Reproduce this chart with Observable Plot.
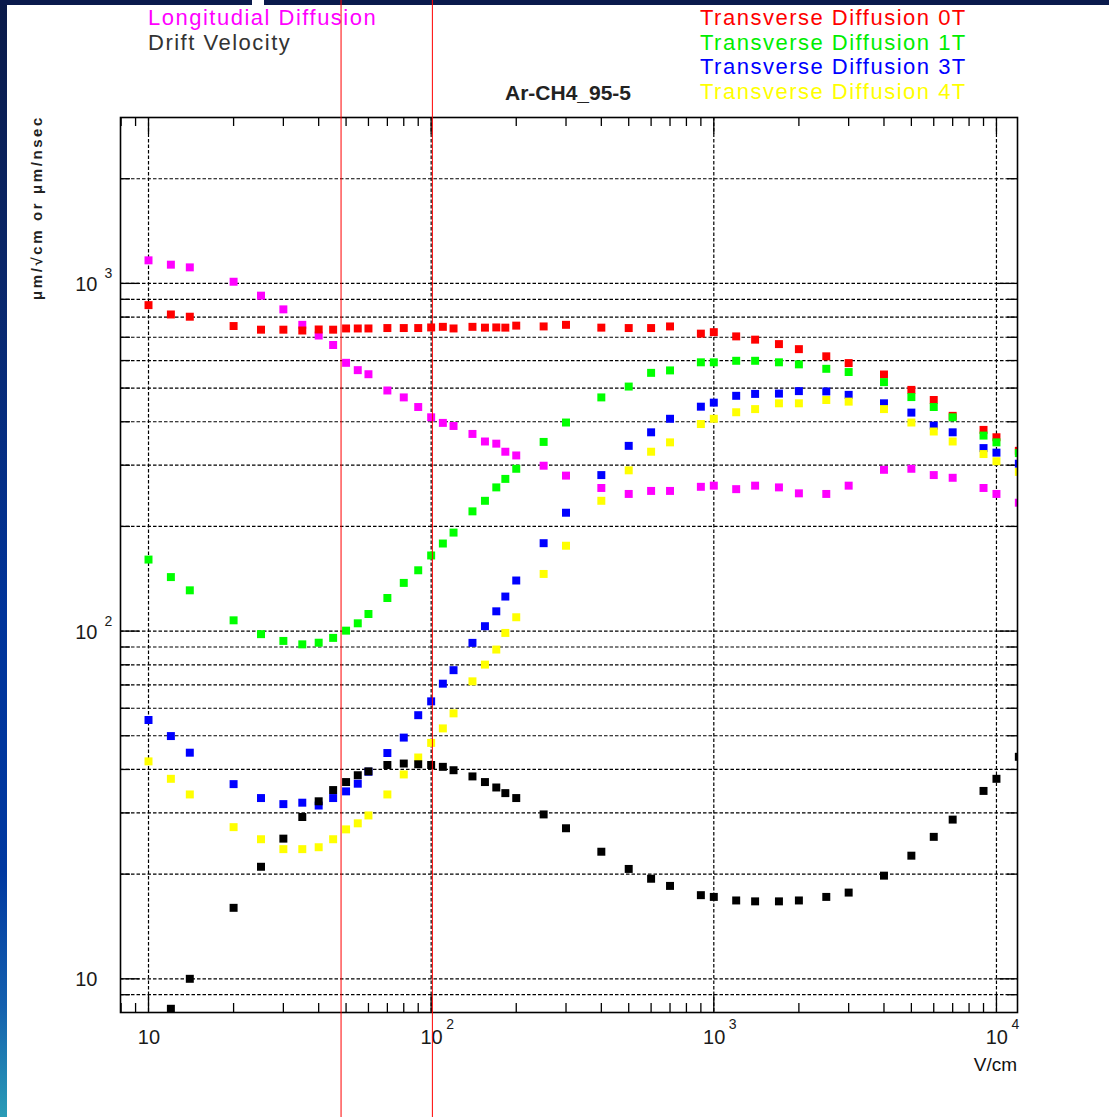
<!DOCTYPE html>
<html>
<head>
<meta charset="utf-8">
<script src="https://cdn.jsdelivr.net/npm/d3@7"></script>
<script src="https://cdn.jsdelivr.net/npm/@observablehq/plot@0.6"></script>
<style>
html, body { margin: 0; padding: 0; background: #fff; }
#page { position: relative; width: 1109px; height: 1117px; overflow: hidden; background: #fff;
  font-family: "Liberation Sans", Arial, Helvetica, sans-serif; }
.band-left { position: absolute; left: 0; top: 0; width: 7px; height: 1117px;
  background: linear-gradient(to bottom, #0a1a48 0%, #0a276a 25%, #00349a 55%, #0038a0 78%, #1460ae 90%, #2a9cb6 100%); }
.band-top { position: absolute; top: 0; height: 5px; background: #0a1a4c; }
.txt { position: absolute; white-space: nowrap; line-height: 1; }
.leg { font-size: 22px; letter-spacing: 1.5px; }
#chart { position: absolute; left: 0; top: 0; }
</style>
</head>
<body>
<div id="page">
  <div class="band-left"></div>
  <div class="band-top" style="left:0;width:252px"></div>
  <div class="band-top" style="left:264px;width:845px"></div>
  <div class="txt leg" style="left:148px;top:7.4px;color:#ff00ff">Longitudial Diffusion</div>
  <div class="txt leg" style="left:148px;top:32px;color:#333">Drift Velocity</div>
  <div class="txt leg" style="left:700px;top:7.4px;color:#ff0000">Transverse Diffusion 0T</div>
  <div class="txt leg" style="left:700px;top:32px;color:#00ee00">Transverse Diffusion 1T</div>
  <div class="txt leg" style="left:700px;top:56.4px;color:#0000ff">Transverse Diffusion 3T</div>
  <div class="txt leg" style="left:700px;top:81px;color:#ffff00">Transverse Diffusion 4T</div>
  <div class="txt" style="left:418px;width:300px;text-align:center;top:82px;font-size:21px;font-weight:bold;color:#222">Ar-CH4_95-5</div>
  <div class="txt" style="left:36px;top:115px;transform-origin:0 0;transform:rotate(-90deg) translate(-100%,-50%);font-size:15px;font-weight:bold;letter-spacing:2.6px;color:#222">μm/√cm or μm/nsec</div>
  <div class="txt" style="left:817px;width:200px;text-align:right;top:1055px;font-size:19px;color:#111">V/cm</div>
  <div id="chart"></div>
</div>
<script>
// Electric field values (V/cm)
const field = [10, 12, 14, 20, 25, 30, 35, 40, 45, 50, 55, 60, 70, 80, 90, 100, 110, 120, 140, 155, 170, 183, 200,
  250, 300, 400, 500, 600, 700, 900, 1000, 1200, 1400, 1700, 2000, 2500, 3000, 4000, 5000, 6000, 7000, 9000, 10000, 12000];

// Longitudinal diffusion (um/sqrt(cm))
const longDiff = [1165, 1132, 1112, 1011, 922, 842, 760, 708, 665, 591, 563, 548, 492, 470, 441, 412, 397, 389, 369, 351, 346, 328, 320,
  299, 280, 258, 248, 253, 253, 260, 262, 256, 262, 259, 249, 248, 262, 291, 293, 281, 276, 258, 248, 234];

// Transverse diffusion at 0T, 1T, 3T, 4T (um/sqrt(cm))
const trans0T = [866, 814, 802, 754, 736, 736, 732, 737, 736, 742, 742, 742, 744, 744, 744, 747, 750, 742, 750, 746, 747, 746, 756,
  752, 760, 746, 744, 744, 752, 717, 724, 704, 689, 669, 647, 617, 590, 547, 494, 462, 416, 379, 361, 330];
const trans1T = [160.6, 143, 131, 107.4, 98, 93.7, 91.6, 92.6, 95.6, 100.3, 105.3, 112, 124.5, 137.6, 149.6, 165, 178.6, 192, 221, 237, 259, 274, 293,
  350, 398, 470, 505, 553, 562, 593, 593, 599, 599, 593, 585, 568, 556, 520, 471, 441, 412, 365, 349, 325];
const trans3T = [55.5, 49.9, 44.7, 36.3, 33.1, 31.8, 32.1, 31.5, 33.1, 34.6, 36.4, 39.4, 44.6, 49.4, 57.3, 62.8, 70.6, 77.2, 92.5, 103.3, 114, 125.7, 139.8,
  179, 219, 281, 341, 373, 408, 442, 454, 475, 481, 482, 490, 489, 478, 452, 425, 390, 373, 336, 326, 303];
const trans4T = [42.2, 37.6, 33.9, 27.3, 25.2, 23.6, 23.6, 23.9, 25.2, 26.9, 28.0, 29.5, 33.9, 38.7, 43.3, 47.7, 52.5, 58, 71.7, 80.1, 88.5, 98.8, 109.6,
  146, 176, 237, 290, 328, 349, 394, 408, 426, 435, 452, 452, 462, 457, 435, 398, 375, 351, 323, 308, 287];

// Drift velocity (um/nsec)
const driftVel = [null, 8.2, 10.0, 16.0, 21.0, 25.3, 29.2, 32.4, 34.9, 36.8, 38.5, 39.5, 41.2, 41.6, 41.4, 41.2, 40.7, 39.8, 38.2, 36.8, 35.5, 34.2, 33.1,
  29.7, 27.1, 23.2, 20.7, 19.4, 18.5, 17.4, 17.2, 16.8, 16.7, 16.7, 16.8, 17.2, 17.7, 19.8, 22.6, 25.6, 28.7, 34.7, 37.6, 43.5];

const seriesNames = ["Longitudial Diffusion", "Transverse Diffusion 0T", "Transverse Diffusion 1T", "Transverse Diffusion 3T", "Transverse Diffusion 4T", "Drift Velocity"];
const seriesColors = ["#ff00ff", "#ff0000", "#00ff00", "#0000ff", "#ffff00", "#000000"];
const seriesValues = [longDiff, trans0T, trans1T, trans3T, trans4T, driftVel];

// Axis setup
const xDomain = [7.96, 11870];
const yDomain = [8, 3000];
const xDecades = [10, 100, 1000, 10000];
const xExponents = ["", "2", "3", "4"];
const yDecades = [10, 100, 1000];
const yExponents = ["", "2", "3"];
const tickBase = "10";

// Vertical marker lines (V/cm)
const markerLines = [48, 101];

const rows = [];
seriesValues.forEach((vals, s) => {
  vals.forEach((v, i) => {
    if (v != null) rows.push({ field: field[i], value: v, series: seriesNames[s], color: seriesColors[s] });
  });
});

const xTicksAll = d3.scaleLog().domain(xDomain).ticks().filter(t => t > xDomain[0] && t < xDomain[1]);
const yTicksAll = d3.scaleLog().domain(yDomain).ticks().filter(t => t > yDomain[0] && t < yDomain[1]);
const isDecade = t => Math.abs(Math.log10(t) - Math.round(Math.log10(t))) < 1e-9;
const xMinor = xTicksAll.filter(t => !isDecade(t));
const yMinor = yTicksAll.filter(t => !isDecade(t));
const xLabelRows = xDecades.map((v, i) => ({ v, exp: xExponents[i] }));
const yLabelRows = yDecades.map((v, i) => ({ v, exp: yExponents[i] }));

const W = 1109, H = 1117, mt = 117, mb = 105, ml = 120, mr = 92;
const fw = W - ml - mr, fh = H - mt - mb;
const majX = 17, minX = 9, majY = 19, minY = 10;

const chart = Plot.plot({
  width: W, height: H,
  marginTop: mt, marginBottom: mb, marginLeft: ml, marginRight: mr,
  style: { background: "transparent", overflow: "visible", fontFamily: "'Liberation Sans', Arial, Helvetica, sans-serif" },
  x: { type: "log", domain: xDomain, axis: null },
  y: { type: "log", domain: yDomain, axis: null },
  color: { type: "identity" },
  marks: [
    // grid
    Plot.ruleY(yTicksAll, { stroke: "#000", strokeWidth: 1.2, strokeDasharray: "3.5,2" }),
    Plot.ruleX(xDecades, { stroke: "#000", strokeWidth: 1.2, strokeDasharray: "3.5,2" }),
    // ticks bottom / top
    Plot.ruleX(xDecades, { stroke: "#000", strokeWidth: 1.3, insetTop: fh - majX }),
    Plot.ruleX(xMinor, { stroke: "#000", strokeWidth: 1.3, insetTop: fh - minX }),
    Plot.ruleX(xDecades, { stroke: "#000", strokeWidth: 1.3, insetBottom: fh - majX }),
    Plot.ruleX(xMinor, { stroke: "#000", strokeWidth: 1.3, insetBottom: fh - minX }),
    // ticks left / right
    Plot.ruleY(yDecades, { stroke: "#000", strokeWidth: 1.3, insetRight: fw - majY }),
    Plot.ruleY(yMinor, { stroke: "#000", strokeWidth: 1.3, insetRight: fw - minY }),
    Plot.ruleY(yDecades, { stroke: "#000", strokeWidth: 1.3, insetLeft: fw - majY }),
    Plot.ruleY(yMinor, { stroke: "#000", strokeWidth: 1.3, insetLeft: fw - minY }),
    // data
    Plot.dot(rows, { x: "field", y: "value", fill: "color", symbol: "square", r: 4.5, clip: true }),
    Plot.frame({ stroke: "#000", strokeWidth: 1.6 }),
    // tick labels
    Plot.text(xLabelRows, { x: "v", frameAnchor: "bottom", text: () => tickBase, textAnchor: "end", dx: 11.5, dy: 31.5, fontSize: 20, fill: "#1a1a1a" }),
    Plot.text(xLabelRows.filter(d => d.exp), { x: "v", frameAnchor: "bottom", text: "exp", textAnchor: "start", dx: 15, dy: 16, fontSize: 14, fill: "#1a1a1a" }),
    Plot.text(yLabelRows, { y: "v", frameAnchor: "left", text: () => tickBase, textAnchor: "end", dx: -23, dy: 1, fontSize: 20, fill: "#1a1a1a" }),
    Plot.text(yLabelRows.filter(d => d.exp), { y: "v", frameAnchor: "left", text: "exp", textAnchor: "start", dx: -16, dy: -10, fontSize: 14, fill: "#1a1a1a" }),
    // marker lines
    Plot.ruleX(markerLines, { stroke: "#ff0000", strokeWidth: 1, insetTop: -mt, insetBottom: -mb })
  ]
});
document.getElementById("chart").appendChild(chart);
</script>
</body>
</html>
